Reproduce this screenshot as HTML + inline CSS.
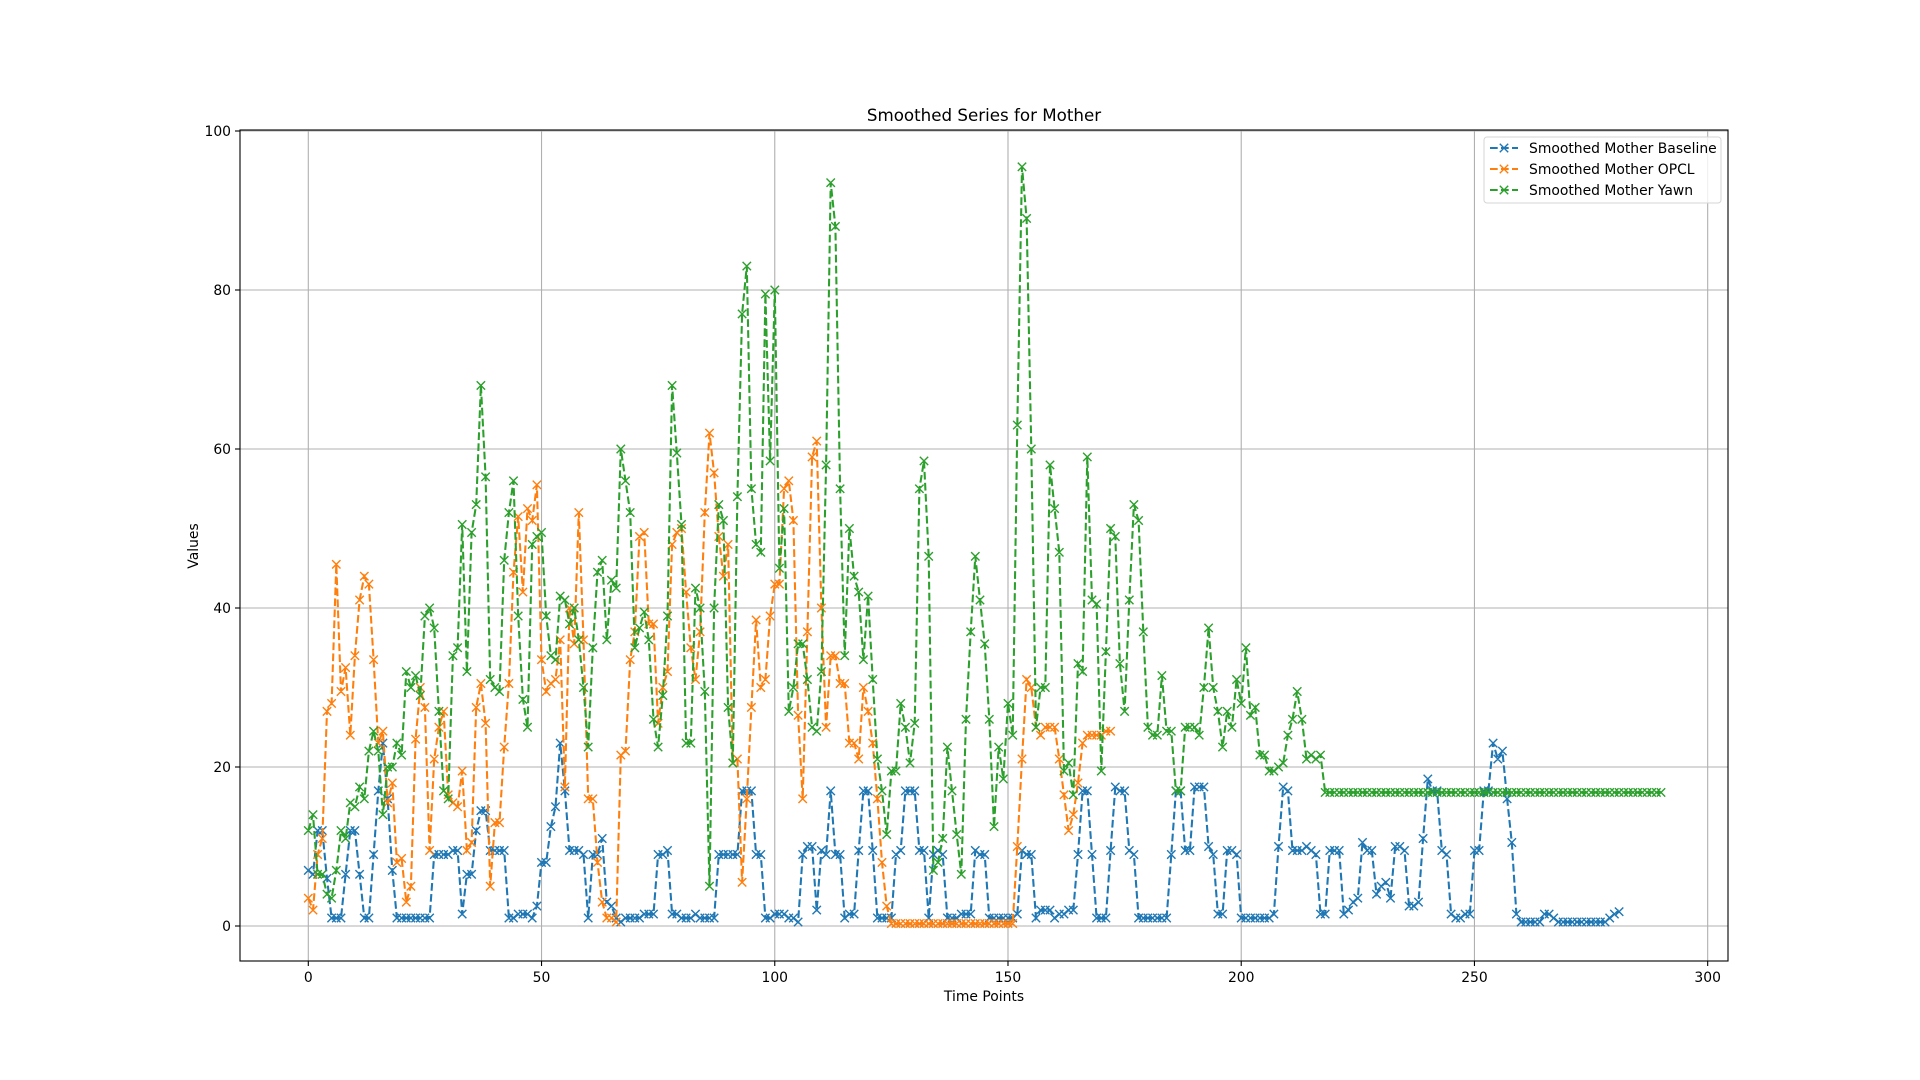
<!DOCTYPE html>
<html><head><meta charset="utf-8"><style>
html,body{margin:0;padding:0;background:#fff;}
svg{display:block;font-family:"DejaVu Sans","Liberation Sans",sans-serif;}
</style></head><body>
<svg id="c" width="1920" height="1080" viewBox="0 0 1920 1080" xmlns="http://www.w3.org/2000/svg">
<rect width="1920" height="1080" fill="#fff"/>
<g id="grid"></g>
<g id="series"></g>
<rect x="240" y="130" width="1488" height="831" fill="none" stroke="#000" stroke-width="1.1"/>
<g id="ticks" font-size="13.9" fill="#000"></g>
<text x="984" y="121" font-size="16.7" text-anchor="middle">Smoothed Series for Mother</text>
<text x="984" y="1001" font-size="13.9" text-anchor="middle">Time Points</text>
<text transform="translate(198,546) rotate(-90)" font-size="13.9" text-anchor="middle">Values</text>
<g id="legend">
<rect x="1484" y="137" width="237" height="66" rx="3" fill="#fff" fill-opacity="0.8" stroke="#d6d6d6" stroke-width="1"/>
</g>
</svg>
<script>
const NS="http://www.w3.org/2000/svg";
function X(t){return 308.3+t*4.6646;}
function Y(v){return 926-v*7.95;}
function el(p,tag,attrs,txt){const e=document.createElementNS(NS,tag);for(const k in attrs)e.setAttribute(k,attrs[k]);if(txt!==undefined)e.textContent=txt;p.appendChild(e);return e;}
const grid=document.getElementById('grid'),ticks=document.getElementById('ticks');
for(let t=0;t<=300;t+=50){const x=X(t);el(grid,'line',{x1:x,x2:x,y1:130,y2:961,stroke:'#b0b0b0','stroke-width':1.1});
el(ticks,'line',{x1:x,x2:x,y1:961,y2:966,stroke:'#000','stroke-width':1.1});el(ticks,'text',{x:x,y:982,'text-anchor':'middle'},String(t));}
for(let v=0;v<=100;v+=20){const y=Y(v);el(grid,'line',{x1:240,x2:1728,y1:y,y2:y,stroke:'#b0b0b0','stroke-width':1.1});
el(ticks,'line',{x1:235,x2:240,y1:y,y2:y,stroke:'#000','stroke-width':1.1});el(ticks,'text',{x:231,y:y+5,'text-anchor':'end'},String(v));}

const yawn=[12,14,6.5,6.5,4,3.5,7,12,11,15.5,15,17.5,16,22,24.5,22,14,20,20,23,21.5,32,30,31.5,29,39,40,37.5,27,17,16,34,35,50.5,32,49.5,53,68,56.5,31,30,29.5,46,52,56,39,28.5,25,48,49,49.5,39,34,33.5,41.5,41,38,40,36,30,22.5,35,44.5,46,36,43.5,42.5,60,56,52,35,37.5,39.5,36,26,22.5,29,39,68,59.5,50.5,23,23,42.5,40,29.5,5,40,53,51,27.5,20.5,54,77,83,55,48,47,79.5,58.5,80,45,52.5,27,30,35.5,35.5,31,25,24.5,32,58,93.5,88,55,34,50,44,42,33.5,41.5,31,21,17,11.5,19.5,19.5,28,25,20.5,25.5,55,58.5,46.5,7,8,11,22.5,17,11.5,6.5,26,37,46.5,41,35.5,26,12.5,22.5,18.5,28,24,63,95.5,89,60,25,30,30,58,52.5,47,19.5,20.5,16.5,33,32,59,41,40.5,19.5,34.5,50,49,33,27,41,53,51,37,25,24,24,31.5,24.5,24.5,17,17,25,25,25,24,30,37.5,30,27,22.5,27,25,31,28,35,26.5,27.5,21.5,21.5,19.5,19.5,20,20.5,24,26,29.5,26,21,21.5,21,21.5];
while(yawn.length<291)yawn.push(16.8);
const opcl=[3.5,2,9,11,27,28,45.5,29.5,32.5,24,34,41,44,43,33.5,23,24.5,15.5,18,8,8.5,3,5,23.5,30,27.5,9.5,21,25,27,16.5,15.5,15,19.5,9.5,10.5,27.5,30.5,25.5,5,13,13,22.5,30.5,44.5,51.5,42,52.5,51,55.5,33.5,29.5,30.5,31,36,17.5,40,35.5,52,36,16,16,8,3,1,1,0.5,21.5,22,33.5,37,49,49.5,38,38,25.5,30,32,48,49.5,50,42,35,31,37,52,62,57,49,44,48,20.5,21,5.5,16,27.5,38.5,30,31,39,43,43,55,56,51,26.5,16,37,59,61,40,25,34,34,30.5,30.5,23,23,21,30,27,23,16,8,2.5];
while(opcl.length<152)opcl.push(0.3);
opcl.push(10,21,31,30,25,24,25,25,25,21,16.5,12,14,18,23,24,24,24,24,24.5,24.5);
const base=[7,6.5,12,12,6,1,1,1,6.5,12,12,6.5,1,1,9,17,23,16,7,1,1,1,1,1,1,1,1,9,9,9,9,9.5,9.5,1.5,6.5,6.5,12,14.5,14.5,9.5,9.5,9.5,9.5,1,1,1.5,1.5,1.5,1,2.5,8,8,12.5,15,23,17,9.5,9.5,9.5,9,1,9,9,11,3,2.5,1,0.5,1,1,1,1,1.5,1.5,1.5,9,9,9.5,1.5,1.5,1,1,1,1.5,1,1,1,1,9,9,9,9,9,17,17,17,9,9,1,1,1.5,1.5,1.5,1,1,0.5,9,10,10,2,9.5,9,17,9,9,1,1.5,1.5,9.5,17,17,9.5,1,1,1,1,9,9.5,17,17,17,9.5,9.5,1,9,9.5,9,1,1,1,1.5,1.5,1.5,9.5,9,9,1,1,1,1,1,1,1.5,9.5,9,9,1,2,2,2,1,1.5,1.5,2,2,9,17,17,9,1,1,1,9.5,17.5,17,17,9.5,9,1,1,1,1,1,1,1,9,17,17,9.5,9.5,17.5,17.5,17.5,10,9,1.5,1.5,9.5,9.5,9,1,1,1,1,1,1,1,1.5,10,17.5,17,9.5,9.5,9.5,10,9.5,9,1.5,1.5,9.5,9.5,9.5,1.5,2,3,3.5,10.5,9.5,9.5,4,5,5.5,3.5,10,10,9.5,2.5,2.5,3,11,18.5,17,17,9.5,9,1.5,1,1,1.5,1.5,9.5,9.5,17,17,23,21,22,16,10.5,1.5,0.5,0.5,0.5,0.5,0.5,1.5,1.5,1,0.5,0.5,0.5,0.5,0.5,0.5,0.5,0.5,0.5,0.5,0.5,1,1.5,1.8];

const S=document.getElementById('series');
function draw(data,color){
  const pts=data.map((v,i)=>X(i).toFixed(1)+','+Y(v).toFixed(1)).join(' ');
  el(S,'polyline',{points:pts,fill:'none',stroke:color,'stroke-width':2.08,'stroke-dasharray':'7.7,3.3'});
  let d='';const r=4.2;
  data.forEach((v,i)=>{const x=X(i),y=Y(v);d+=`M${(x-r).toFixed(1)} ${(y-r).toFixed(1)}L${(x+r).toFixed(1)} ${(y+r).toFixed(1)}M${(x-r).toFixed(1)} ${(y+r).toFixed(1)}L${(x+r).toFixed(1)} ${(y-r).toFixed(1)}`;});
  el(S,'path',{d:d,stroke:color,'stroke-width':1.4,fill:'none'});
}
draw(base,'#1f77b4');draw(opcl,'#ff7f0e');draw(yawn,'#2ca02c');

const L=document.getElementById('legend');
[['Smoothed Mother Baseline','#1f77b4',148],['Smoothed Mother OPCL','#ff7f0e',169],['Smoothed Mother Yawn','#2ca02c',190]].forEach(([t,c,y])=>{
  el(L,'line',{x1:1490,x2:1518,y1:y,y2:y,stroke:c,'stroke-width':2.08,'stroke-dasharray':'7.7,3.3'});
  const x=1504,r=4.2;
  el(L,'path',{d:`M${x-r} ${y-r}L${x+r} ${y+r}M${x-r} ${y+r}L${x+r} ${y-r}`,stroke:c,'stroke-width':1.4});
  el(L,'text',{x:1529,y:y+5,'font-size':13.9},t);
});
</script>
</body></html>
